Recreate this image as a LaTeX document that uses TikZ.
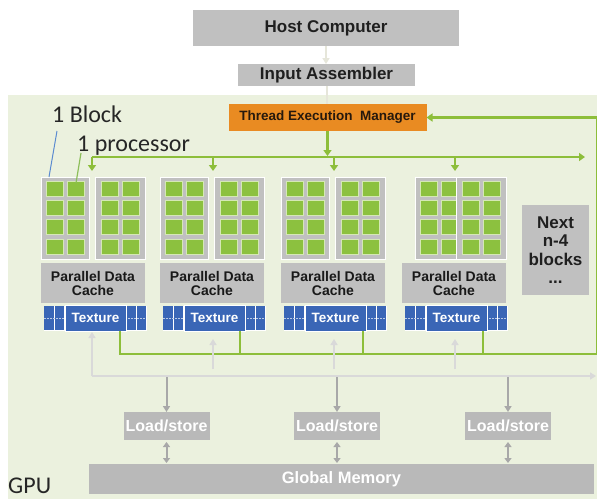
\documentclass[tikz,border=0pt]{standalone}
\usepackage{fontspec}
\setmainfont{Liberation Sans}
\newfontfamily\calfont{Carlito}
\usetikzlibrary{arrows.meta}
\definecolor{gpubg}{HTML}{EBF1DE}
\definecolor{gline}{HTML}{8DBE3A}
\definecolor{cellg}{HTML}{8CC13F}
\definecolor{celledge}{HTML}{D5E8B5}
\definecolor{panelg}{HTML}{C0C0C0}
\definecolor{boxg}{HTML}{C0C0C0}
\definecolor{darkg}{HTML}{B9B9B9}
\definecolor{tmorange}{HTML}{E98B22}
\definecolor{texblue}{HTML}{3A66B6}
\definecolor{lgray}{HTML}{D9D9D9}
\definecolor{mgray}{HTML}{A8A8A8}
\definecolor{topline}{HTML}{E6E6DA}
\definecolor{blkline}{HTML}{5B8BD0}
\definecolor{procline}{HTML}{8DBE5A}

\newcommand\gpublock[3]{%
\begin{scope}[shift={(#1,0)}]
 \node[panel, minimum width=48pt] (#2pl) at (#3+24,218) {};
 \foreach \cx in {5,26}{\foreach \cy in {181,200.3,219.6,239}{
   \fill[cellg,draw=celledge,line width=0.8pt] (#3+\cx,\cy) rectangle ++(17,15);}}
 \node[panel, minimum width=50pt] (#2pr) at (79,218) {};
 \foreach \cx in {60,81}{\foreach \cy in {181,200.3,219.6,239}{
   \fill[cellg,draw=celledge,line width=0.8pt] (\cx,\cy) rectangle ++(17,15);}}
 \node[cachebox] (#2cache) at (52,283) {Parallel Data\\Cache};
 \fill[white] (2.5,305.5) rectangle (105.5,330.5);
 \foreach \a/\b in {3/13,14/23,86/95,96/105}{\fill[texblue] (\a,306) rectangle (\b,330);}
 \draw[white!65!texblue, dash pattern=on 1.5pt off 1.5pt, line width=0.5pt] (3,318) -- (105,318);
 \node[texbox] (#2tex) at (54.5,318) {Texture};
\end{scope}}

\begin{document}
\begin{tikzpicture}[x=1pt,y=-1pt,
  box/.style={inner sep=0pt, outer sep=0pt, align=center},
  graybox/.style={box, fill=boxg, text=black!88, font=\fontsize{17}{17}\selectfont\bfseries},
  panel/.style={box, fill=panelg, draw=white, line width=1pt, minimum height=82pt},
  cachebox/.style={box, fill=panelg, minimum width=104pt, minimum height=40pt,
     text=black!90, font=\fontsize{14}{14}\selectfont\bfseries},
  texbox/.style={box, fill=texblue, draw=white, line width=0.8pt, minimum width=61pt,
     minimum height=26pt, text=white, font=\fontsize{13.5}{13.5}\selectfont\bfseries},
  lsbox/.style={box, fill=darkg, minimum width=86pt, minimum height=28pt, text=white,
     font=\fontsize{16}{16}\selectfont\bfseries},
  lbl/.style={inner sep=0pt, text=black!85, font=\calfont\fontsize{24}{24}\selectfont},
  garrow/.style={draw=gline, line width=2.2pt, -{Triangle[width=8pt,length=6pt]}},
  gpath/.style={draw=gline, line width=2.2pt},
  larrow/.style={draw=lgray, line width=2pt, -{Triangle[width=7pt,length=6pt]}},
  marrow/.style={draw=mgray, line width=2pt, -{Triangle[width=7pt,length=6pt]}},
  mdarrow/.style={draw=mgray, line width=2pt, {Triangle[width=7pt,length=5pt]}-{Triangle[width=7pt,length=5pt]}},
  tline/.style={draw=topline, line width=2pt}]
\useasboundingbox (0,0) rectangle (597,499);
\fill[white] (0,0) rectangle (597,499);
\fill[gpubg] (8,95) rectangle (597,499);

% top boxes
\node[graybox, minimum width=266pt, minimum height=36pt] (host) at (326,28) {Host Computer};
\node[graybox, minimum width=177pt, minimum height=22pt] (input) at (326.5,75) {Input Assembler};
\node[box, fill=tmorange, minimum width=198pt, minimum height=27pt, text=black!80!brown,
  font=\fontsize{13.5}{13.5}\selectfont\bfseries] (tem) at (327.5,117.5) {Thread Execution\ \ Manager};
\draw[tline, -{Triangle[width=7pt,length=6pt]}] (host.south) -- (host.south |- input.north);
\draw[tline] (input.south) -- (input.south |- tem.north);

% labels
\node[lbl, anchor=base west] (lblock) at (52,122) {1 Block};
\node[lbl, anchor=base west] (lproc) at (77,151) {1 processor};
\node[lbl, anchor=base west] (lgpu) at (8,493) {GPU};

% blocks
\gpublock{41}{b1}{0}
\gpublock{160}{b2}{0}
\gpublock{281}{b3}{0}
\gpublock{402}{b4}{13}

\node[box, fill=boxg, minimum width=67pt, minimum height=90pt, text=black!88,
  font=\fontsize{17}{18.5}\selectfont\bfseries] (next) at (555.5,250) {Next\\n-4\\blocks\\...};

% label pointers
\coordinate (blkA) at (57,131); \coordinate (blkB) at (49,177);
\coordinate (prcA) at (81,153); \coordinate (prcB) at (76,183);
\draw[blkline, line width=1pt] (blkA) -- (blkB);
\draw[procline, line width=1.2pt] (prcA) -- (prcB);

% green distribution bus
\coordinate (busL) at (92,157); \coordinate (busR) at (585,157);
\coordinate (d2) at (213,157); \coordinate (d3) at (334,157); \coordinate (d4) at (455,157);
\draw[garrow, shorten >=1pt] (tem.south) -- (tem.south |- busL);
\draw[garrow] (busL) -- (busR);
\draw[garrow, shorten >=6pt] (busL) -- (busL |- b1pl.north);
\draw[garrow, shorten >=6pt] (d2) -- (d2 |- b2pl.north);
\draw[garrow, shorten >=6pt] (d3) -- (d3 |- b3pl.north);
\draw[garrow, shorten >=6pt] (d4) -- (d4 |- b4pr.north);

% green return bus
\coordinate (g1) at (120,331); \coordinate (g1b) at (120,354);
\coordinate (g2) at (240,331); \coordinate (g2b) at (240,354);
\coordinate (g3) at (363,331); \coordinate (g3b) at (363,354);
\coordinate (g4) at (483,331); \coordinate (g4b) at (483,354);
\coordinate (gR) at (597.5,354); \coordinate (gRt) at (597.5,117.5);
\draw[garrow] (g1) -- (g1b) -- (gR) -- (gRt) -- (tem.east);
\draw[gpath] (g2) -- (g2b);
\draw[gpath] (g3) -- (g3b);
\draw[gpath] (g4) -- (g4b);

% gray memory bus
\coordinate (h0) at (92,376); \coordinate (hR) at (596,376);
\coordinate (u1) at (92,332);
\draw[larrow] (h0) -- (hR);
\draw[larrow] (h0) -- (u1);
\coordinate (u2a) at (213,369); \coordinate (u2b) at (213,339);
\coordinate (u3a) at (334,369); \coordinate (u3b) at (334,339);
\coordinate (u4a) at (455,369); \coordinate (u4b) at (455,339);
\draw[larrow] (u2a) -- (u2b);
\draw[larrow] (u3a) -- (u3b);
\draw[larrow] (u4a) -- (u4b);

% load/store and global memory
\node[lsbox] (ls1) at (166.5,426) {Load/store};
\node[lsbox] (ls2) at (337,426) {Load/store};
\node[lsbox] (ls3) at (508,426) {Load/store};
\node[box, fill=darkg, minimum width=505pt, minimum height=30pt, text=white,
  font=\fontsize{16.5}{16.5}\selectfont\bfseries] (gm) at (341.5,479) {Global Memory};

\coordinate (s1) at (166.5,377); \coordinate (s2) at (337,377); \coordinate (s3) at (508,377);
\draw[marrow] (s1) -- (ls1.north);
\draw[marrow] (s2) -- (ls2.north);
\draw[marrow] (s3) -- (ls3.north);
\draw[mdarrow, shorten <=2pt, shorten >=1pt] (ls1.south) -- (ls1.south |- gm.north);
\draw[mdarrow, shorten <=2pt, shorten >=1pt] (ls2.south) -- (ls2.south |- gm.north);
\draw[mdarrow, shorten <=2pt, shorten >=1pt] (ls3.south) -- (ls3.south |- gm.north);
\end{tikzpicture}
\end{document}
